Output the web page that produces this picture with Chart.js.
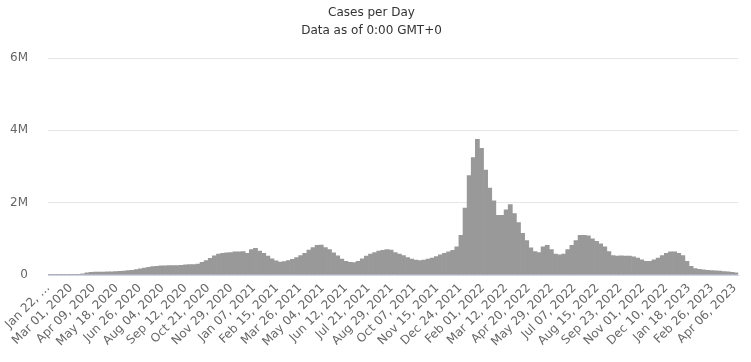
<!DOCTYPE html>
<html>
<head>
<meta charset="utf-8">
<title>Cases per Day</title>
<script src="https://cdn.jsdelivr.net/npm/chart.js@4/dist/chart.umd.min.js"></script>
<style>
    html, body { margin: 0; padding: 0; background: #fff; }
    #wrap { width: 751px; height: 362px; }
</style>
</head>
<body>
<div id="wrap"><canvas id="chart" width="751" height="362"></canvas></div>
<script>
// x axis counts days from Jan 22, 2020; one bar per week (daily average of that week)
const startLabel = 'Jan 22, 2020';
const daysPerWeek = 7;
const lastDay = 1176;

// tick labels, one every 39 days
const tickDays = [0, 39, 78, 117, 156, 195, 234, 273, 312, 351, 390, 429, 468, 507, 546, 585,
    624, 663, 702, 741, 780, 819, 858, 897, 936, 975, 1014, 1053, 1092, 1131, 1170];
const tickLabels = ['Jan 22, …', 'Mar 01, 2020', 'Apr 09, 2020', 'May 18, 2020', 'Jun 26, 2020',
    'Aug 04, 2020', 'Sep 12, 2020', 'Oct 21, 2020', 'Nov 29, 2020', 'Jan 07, 2021', 'Feb 15, 2021',
    'Mar 26, 2021', 'May 04, 2021', 'Jun 12, 2021', 'Jul 21, 2021', 'Aug 29, 2021', 'Oct 07, 2021',
    'Nov 15, 2021', 'Dec 24, 2021', 'Feb 01, 2022', 'Mar 12, 2022', 'Apr 20, 2022', 'May 29, 2022',
    'Jul 07, 2022', 'Aug 15, 2022', 'Sep 23, 2022', 'Nov 01, 2022', 'Dec 10, 2022', 'Jan 18, 2023',
    'Feb 26, 2023', 'Apr 06, 2023'];

const yTicks = [0, 2000000, 4000000, 6000000];
const yTickLabels = ['0', '2M', '4M', '6M'];

// cases per day, week by week
const weeklyCases = [
    1000, 2000, 3000, 2500, 1500, 1500, 4000, 12000, 35000, 60000,
    75000, 80000, 80000, 82000, 85000, 88000, 95000, 100000, 105000, 120000,
    130000, 150000, 170000, 190000, 210000, 230000, 240000, 255000, 255000, 260000,
    260000, 260000, 270000, 280000, 285000, 290000, 300000, 350000, 400000, 460000,
    530000, 580000, 600000, 610000, 620000, 640000, 640000, 650000, 600000, 700000,
    740000, 660000, 600000, 520000, 450000, 390000, 360000, 370000, 400000, 430000,
    480000, 540000, 600000, 690000, 760000, 820000, 830000, 760000, 700000, 610000,
    530000, 440000, 380000, 350000, 340000, 380000, 450000, 520000, 580000, 620000,
    660000, 680000, 700000, 690000, 620000, 580000, 540000, 480000, 440000, 410000,
    400000, 410000, 440000, 470000, 510000, 560000, 600000, 640000, 680000, 780000,
    1100000, 1850000, 2750000, 3250000, 3750000, 3500000, 2900000, 2400000, 2050000, 1650000,
    1650000, 1800000, 1950000, 1700000, 1450000, 1150000, 950000, 750000, 650000, 620000,
    780000, 820000, 700000, 580000, 560000, 580000, 700000, 820000, 950000, 1100000,
    1100000, 1080000, 1000000, 930000, 860000, 780000, 650000, 540000, 520000, 530000,
    520000, 520000, 500000, 470000, 420000, 380000, 380000, 420000, 470000, 540000,
    600000, 640000, 640000, 600000, 540000, 380000, 240000, 180000, 160000, 140000,
    130000, 125000, 115000, 105000, 95000, 85000, 75000, 60000
];

// each week's bar sits in the middle of its seven days
const points = weeklyCases.map((v, i) => ({ x: i * daysPerWeek + daysPerWeek / 2, y: v }));

Chart.defaults.font.family = "'DejaVu Sans', sans-serif";
Chart.defaults.font.size = 12;
Chart.defaults.color = '#666666';

new Chart(document.getElementById('chart'), {
    type: 'bar',
    data: {
        datasets: [{
            label: 'Cases',
            data: points,
            backgroundColor: '#999999',
            borderWidth: 0,
            barPercentage: 1.0,
            categoryPercentage: 1.0
        }]
    },
    options: {
        responsive: false,
        animation: false,
        layout: { padding: { left: 0, right: 8, top: 0, bottom: 0 } },
        plugins: {
            legend: { display: false },
            tooltip: { enabled: false },
            title: {
                display: true,
                text: ['Cases per Day', 'Data as of 0:00 GMT+0'],
                color: '#333333',
                font: { size: 12, weight: 'normal', lineHeight: 1.5 },
                padding: { top: 4, bottom: 18 }
            }
        },
        scales: {
            x: {
                type: 'linear',
                min: 0,
                max: lastDay,
                offset: false,
                grid: { display: false, drawTicks: false },
                border: { display: true, color: '#ccd6eb', width: 1 },
                afterBuildTicks: axis => { axis.ticks = tickDays.map(d => ({ value: d })); },
                afterFit: axis => { axis.height = 87; },
                ticks: {
                    autoSkip: false,
                    maxRotation: 45,
                    minRotation: 45,
                    padding: 6,
                    callback: (value, index) => tickLabels[index]
                }
            },
            y: {
                min: 0,
                max: 6000000,
                grid: {
                    color: ctx => (ctx.tick && ctx.tick.value === 0 ? 'rgba(0,0,0,0)' : '#e6e6e6'),
                    drawTicks: false
                },
                border: { display: false },
                afterBuildTicks: axis => { axis.ticks = yTicks.map(v => ({ value: v })); },
                afterFit: axis => { axis.width = 48; },
                ticks: {
                    padding: 20,
                    callback: (value, index) => yTickLabels[index]
                }
            }
        }
    }
});
</script>
</body>
</html>
